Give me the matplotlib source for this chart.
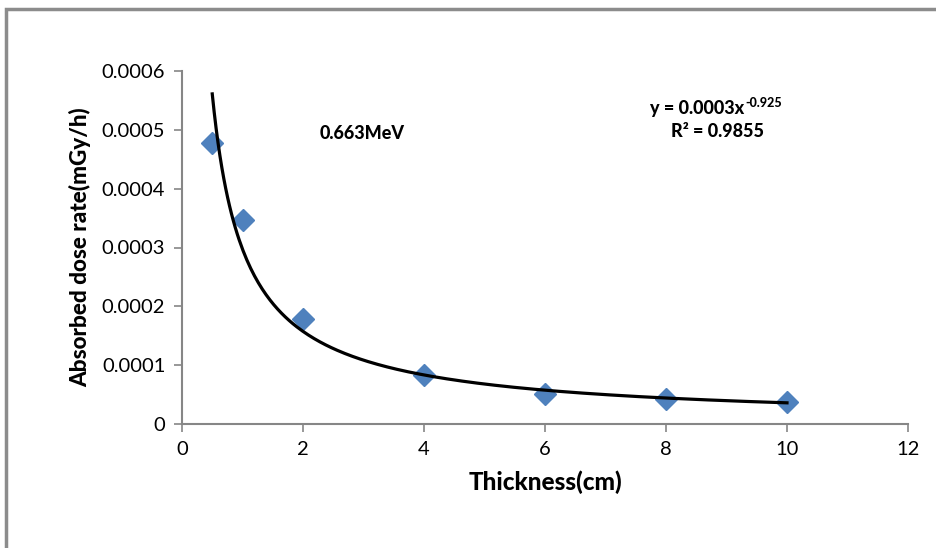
import matplotlib.pyplot as plt
import matplotlib.patches as patches
import numpy as np

plt.rcParams['font.family'] = ['Lato', 'DejaVu Sans']

# data
thickness = [0.5, 1, 2, 4, 6, 8, 10]
dose_rate = [0.000477, 0.000347, 0.000178, 0.0000835, 0.000051, 0.0000425, 0.0000375]
x_ticks = [0, 2, 4, 6, 8, 10, 12]
y_ticks = [0, 0.0001, 0.0002, 0.0003, 0.0004, 0.0005, 0.0006]
y_tick_labels = ['0', '0.0001', '0.0002', '0.0003', '0.0004', '0.0005', '0.0006']

# power trendline fitted in log space (like excel does)
b, log_a = np.polyfit(np.log(thickness), np.log(dose_rate), 1)
a = np.exp(log_a)
xs = np.linspace(min(thickness), max(thickness), 300)
ys = a * xs ** b

fig = plt.figure(figsize=(9.37, 5.48), dpi=100)
ax = fig.add_axes([182 / 937, 1 - 424 / 548, (908 - 182) / 937, (424 - 71) / 548])

ax.plot(thickness, dose_rate, linestyle='none', marker='D', markersize=11,
        color='#4F81BD', zorder=2)
ax.plot(xs, ys, color='black', linewidth=2.3, zorder=3)

ax.set_xlim(0, 12)
ax.set_ylim(0, 0.0006)
ax.set_xticks(x_ticks)
ax.set_yticks(y_ticks)
ax.set_yticklabels(y_tick_labels)
ax.tick_params(labelsize=14.5, colors='black', length=6, width=1.2, color='#868686', pad=6)

for s in ['top', 'right']:
    ax.spines[s].set_visible(False)
for s in ['left', 'bottom']:
    ax.spines[s].set_color('#868686')
    ax.spines[s].set_linewidth(1.5)

ax.set_xlabel('Thickness(cm)', fontsize=17.5, fontweight='black', labelpad=9)
ax.set_ylabel('Absorbed dose rate(mGy/h)', fontsize=16.2, fontweight='black', labelpad=8)

ax.text(0.189, 0.824, '0.663MeV', transform=ax.transAxes, fontsize=13,
        fontweight='black', ha='left', va='center')
eq = ax.text(0.645, 0.895, 'y = 0.0003x', transform=ax.transAxes,
             fontsize=13, fontweight='black', ha='left', va='center')
ax.annotate('-0.925', xy=(1, 1), xycoords=eq, xytext=(0.5, 2), textcoords='offset points',
            fontsize=9, fontweight='black', ha='left', va='top')
ax.text(0.738, 0.83, 'R² = 0.9855', transform=ax.transAxes,
        fontsize=13, fontweight='black', ha='center', va='center')

# chart border like the excel chart area (right and bottom edges fall outside)
fig.patches.append(patches.Rectangle((6 / 937, -0.1), 1.5, 1 - 9 / 548 + 0.1,
                                     transform=fig.transFigure, fill=False,
                                     edgecolor='#8c8c8c', linewidth=2.5))

fig.savefig('out.png', dpi=100)
